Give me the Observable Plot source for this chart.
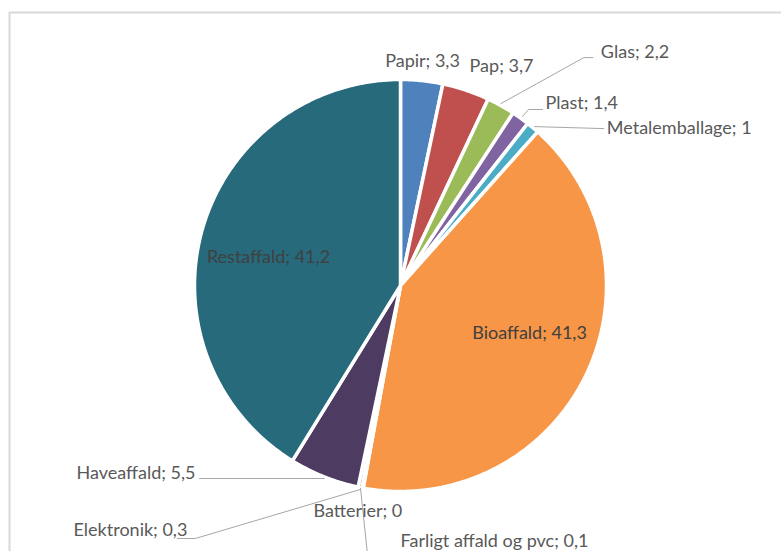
<!DOCTYPE html>
<html>
<head>
<meta charset="utf-8">
<script src="https://cdn.jsdelivr.net/npm/d3@7"></script>
<script src="https://cdn.jsdelivr.net/npm/@observablehq/plot@0.6"></script>
<style>
  html, body { margin: 0; padding: 0; background: #fff; overflow: hidden; }
  #chart svg { display: block; }
</style>
</head>
<body>
<div id="chart"></div>
<script>
// ---- data ----
const categories = ["Papir", "Pap", "Glas", "Plast", "Metalemballage", "Bioaffald",
  "Farligt affald og pvc", "Batterier", "Elektronik", "Haveaffald", "Restaffald"];
const values = [3.3, 3.7, 2.2, 1.4, 1, 41.3, 0.1, 0, 0.3, 5.5, 41.2];
const colors = ["#4f81bd", "#c0504d", "#9bbb59", "#8064a2", "#4bacc6", "#f79646",
  "#2c4d75", "#772c2a", "#5f7530", "#4d3b62", "#276a7c"];

// ---- layout (pixels) ----
const W = 781, H = 551;
const CX = 400, CY = 285, R = 206;   // pie centre and radius in pixels
// label layout: anchor radius factor, text offset (px), text-anchor, inside?, leader bends (px offsets from anchor)
const labelLayout = [
  {k: 1,    dx: 0.7,   dy: -19,   anchor: "middle", inside: false, leader: null},
  {k: 1,    dx: 35.5,  dy: -23.7, anchor: "middle", inside: false, leader: null},
  {k: 1,    dx: 100,   dy: -53,   anchor: "start",  inside: false, leader: [[0, -2], [83, -48], [92, -48]]},
  {k: 1,    dx: 25,    dy: -14.6, anchor: "start",  inside: false, leader: [[2, -1.6], [8, -8.6], [22, -8.6]]},
  {k: 1,    dx: 74,    dy: 1,     anchor: "start",  inside: false, leader: [[1.7, -1], [71, 1]]},
  {k: 0.65, dx: 8.8,   dy: -10.9, anchor: "middle", inside: true,  leader: null},
  {k: 1,    dx: 38,    dy: 53.5,  anchor: "start",  inside: false, leader: [[-2, 0.5], [8, 95]]},
  {k: 1,    dx: -4,    dy: 23,    anchor: "middle", inside: false, leader: null},
  {k: 1,    dx: -172.6,dy: 43,    anchor: "end",    inside: false, leader: [[0.4, 2], [-164.6, 51], [-182.6, 51]]},
  {k: 1,    dx: -128.5,dy: -3.3,  anchor: "end",    inside: false, leader: [[0, 1.7], [-124.5, 1.7]]},
  {k: 0.65, dx: -3.2,  dy: 8.5,   anchor: "middle", inside: true,  leader: null}
];

const fmt = v => String(v).replace(".", ",");
const total = d3.sum(values);

// slices in pie units (radius 1, y up)
let cum = 0;
const slices = categories.map((c, i) => {
  const a0 = 2 * Math.PI * cum / total;
  cum += values[i];
  const a1 = 2 * Math.PI * cum / total;
  return {category: c, value: values[i], color: colors[i], a0, a1, mid: (a0 + a1) / 2, i};
});

const slicePoints = [];
for (const s of slices) {
  if (s.value <= 0) continue;
  slicePoints.push({category: s.category, x: 0, y: 0});
  const n = Math.max(2, Math.ceil((s.a1 - s.a0) / (Math.PI / 360)));
  for (let j = 0; j <= n; j++) {
    const a = s.a0 + (s.a1 - s.a0) * j / n;
    slicePoints.push({category: s.category, x: Math.sin(a), y: Math.cos(a)});
  }
  slicePoints.push({category: s.category, x: 0, y: 0});
}

const labelData = slices.map((s, i) => {
  const L = labelLayout[i];
  const ax = L.k * Math.sin(s.mid), ay = L.k * Math.cos(s.mid);
  return {
    text: `${s.category}; ${fmt(s.value)}`,
    x: ax + L.dx / R, y: ay - L.dy / R,
    anchor: L.anchor, inside: L.inside, ax, ay, leader: L.leader, category: s.category
  };
});

const leaderPoints = [];
for (const l of labelData) {
  if (!l.leader) continue;
  for (const [dx, dy] of l.leader) {
    leaderPoints.push({category: l.category, x: l.ax + dx / R, y: l.ay - dy / R});
  }
}

const mL = 9, mT = 12;
const xDomain = [(mL - CX) / R, (W - CX) / R];
const yDomain = [(CY - H) / R, (CY - mT) / R];

const font = "Lato, 'Open Sans', sans-serif";
const textMark = (data, fill) => ["start", "middle", "end"].map(a =>
  Plot.text(data.filter(d => d.anchor === a), {
    x: "x", y: "y", text: "text", textAnchor: a, fill, fontSize: 18, fontFamily: font
  }));

const chart = Plot.plot({
  width: W, height: H,
  marginLeft: mL, marginTop: mT, marginRight: 0, marginBottom: 0,
  x: {domain: xDomain, axis: null},
  y: {domain: yDomain, axis: null},
  style: {background: "#fff"},
  marks: [
    Plot.ruleX([xDomain[0]], {stroke: "#d9d9d9", strokeWidth: 2}),
    Plot.ruleY([yDomain[1]], {stroke: "#d9d9d9", strokeWidth: 2}),
    Plot.line(slicePoints, {
      x: "x", y: "y", z: "category",
      fill: d => colors[categories.indexOf(d.category)],
      stroke: "#fff", strokeWidth: 3.5, strokeLinejoin: "round", curve: "linear"
    }),
    Plot.line(leaderPoints, {x: "x", y: "y", z: "category", stroke: "#a6a6a6", strokeWidth: 1, curve: "linear"}),
    ...textMark(labelData.filter(d => !d.inside), "#595959"),
    ...textMark(labelData.filter(d => d.inside), "#404040")
  ]
});
document.getElementById("chart").appendChild(chart);
</script>
</body>
</html>
